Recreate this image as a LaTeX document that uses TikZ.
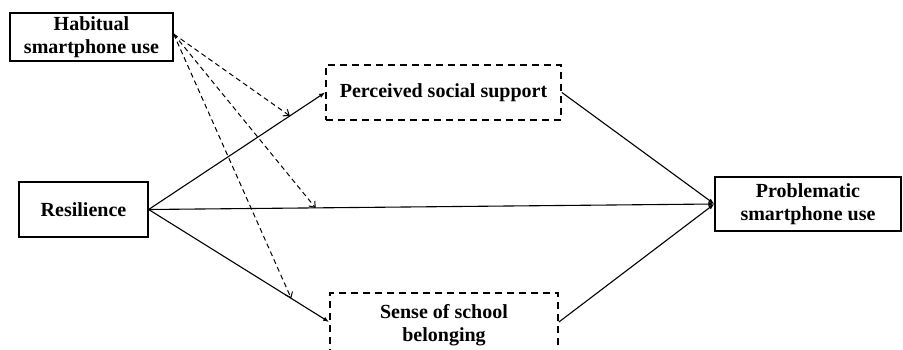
\documentclass[tikz,border=0pt]{standalone}
\usepackage{fontspec}
\setmainfont{Liberation Serif}
\usetikzlibrary{arrows.meta}
\begin{document}
\begin{tikzpicture}[x=1pt,y=-1pt,
  box/.style={draw, line width=1.3pt, align=center, inner sep=0pt, font=\bfseries\fontsize{20}{22.5}\selectfont},
  dbox/.style={box, dashed, line width=1.8pt, dash pattern=on 7pt off 5pt},
  path/.style={line width=1.1pt, -{Latex[length=6pt,width=4.5pt]}},
  mod/.style={line width=1pt, dashed, dash pattern=on 5pt off 3.5pt, -{Straight Barb[length=5pt,width=8pt]}}]
\useasboundingbox (0,0) rectangle (903,350);
\node[box, minimum width=163pt, minimum height=48pt] (hab) at (91.5,37) {Habitual\\smartphone use};
\node[box, minimum width=129pt, minimum height=55pt] (res) at (83.5,209.5) {Resilience};
\node[dbox, minimum width=235pt, minimum height=55pt] (per) at (443.5,92.5) {Perceived social support};
\node[box, minimum width=186pt, minimum height=54pt] (pro) at (808,204) {Problematic\\smartphone use};
\node[dbox, minimum width=228pt, minimum height=64pt] (sen) at (444,325) {Sense of school\\belonging};
\coordinate (senin) at (sen.west |- 0,322);
\coordinate (senout) at (sen.east |- 0,322);
\draw[path] (res.east) -- (per.west) coordinate[pos=0.8] (m1);
\draw[path] (res.east) -- (pro.west) coordinate[pos=0.295] (m2);
\draw[path] (res.east) -- (senin) coordinate[pos=0.79] (m3);
\draw[path] (per.east) -- (pro.west);
\draw[path] (senout) -- (pro.west);
\coordinate (h) at ([yshift=3pt]hab.east);
\draw[mod] (h) -- (m1);
\draw[mod] (h) -- (m2);
\draw[mod] (h) -- (m3);
\end{tikzpicture}
\end{document}
